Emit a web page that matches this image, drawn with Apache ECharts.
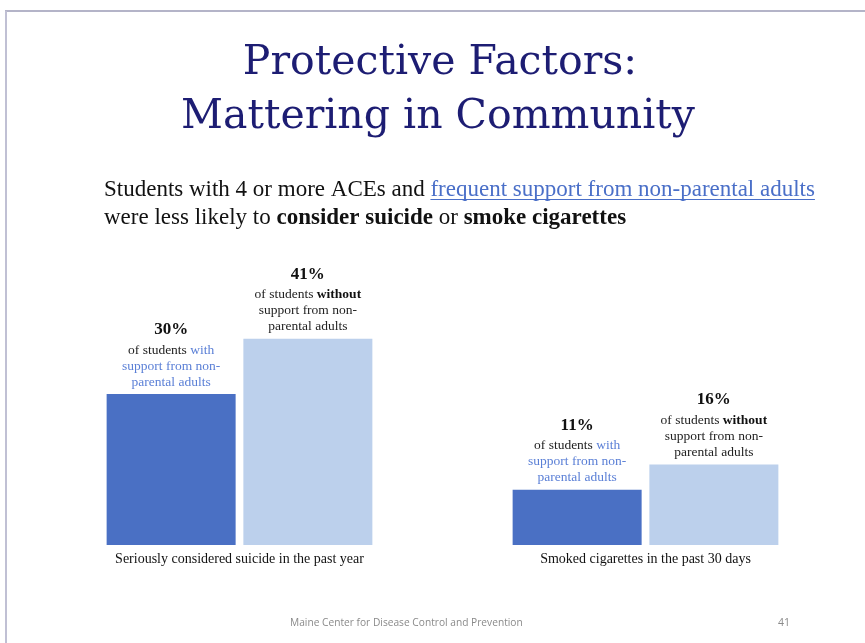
<!DOCTYPE html>
<html>
<head>
<meta charset="utf-8">
<script src="https://cdn.jsdelivr.net/npm/echarts@6/dist/echarts.min.js"></script>
<style>
html,body{margin:0;padding:0;background:#fff;}
#chart{width:865px;height:643px;}
</style>
</head>
<body>
<div id="chart"></div>
<script>
const titleLines = ['Protective Factors:', 'Mattering in Community'];
const categories = ['Seriously considered suicide in the past year', 'Smoked cigarettes in the past 30 days'];
const withSupport = [30, 11];
const withoutSupport = [41, 16];
const footerText = 'Maine Center for Disease Control and Prevention';
const pageNumber = '41';

const chart = echarts.init(document.getElementById('chart'), null, {renderer: 'canvas'});

const serif = '"Liberation Serif", "Times New Roman", serif';
const subFont = 23;
const subX = 104;
const sub1a = 'Students with 4 or more ACEs and ';
const sub1b = 'frequent support from non-parental adults';
const cv = document.createElement('canvas').getContext('2d');
cv.font = subFont + 'px ' + serif;
const wA = cv.measureText(sub1a).width;
const wB = cv.measureText(sub1b).width;

const lf = 13.5;
const labelRichBase = {
  pct: {fontFamily: serif, fontWeight: 'bold', fontSize: 17, color: '#111', lineHeight: 25},
  t: {fontFamily: serif, fontSize: lf, color: '#222', lineHeight: 16},
  b: {fontFamily: serif, fontSize: lf, color: '#111', fontWeight: 'bold', lineHeight: 16},
  w: {fontFamily: serif, fontSize: lf, color: '#5a7fd6', lineHeight: 16}
};

chart.setOption({
  backgroundColor: '#ffffff',
  animation: false,
  grid: {left: 36.5, right: 16.5, top: 293.5, bottom: 98},
  xAxis: {
    type: 'category',
    data: categories,
    axisLine: {show: false},
    axisTick: {show: false},
    axisLabel: {fontFamily: serif, fontSize: 14, color: '#111', margin: 7}
  },
  yAxis: {
    type: 'value', min: 0, max: 50,
    show: false
  },
  series: [
    {
      type: 'bar', name: 'with support', data: withSupport,
      barWidth: 129, barGap: '6%',
      itemStyle: {color: '#4a70c4'},
      label: {
        show: true, position: 'top', distance: 4, align: 'center',
        formatter: p => '{pct|' + p.value + '%}\n{t|of students }{w|with}\n{w|support from non-}\n{w|parental adults}',
        rich: labelRichBase
      }
    },
    {
      type: 'bar', name: 'without support', data: withoutSupport,
      barWidth: 129, barGap: '6%',
      itemStyle: {color: '#bcd0ec'},
      label: {
        show: true, position: 'top', distance: 4, align: 'center',
        formatter: p => '{pct|' + p.value + '%}\n{t|of students }{b|without}\n{t|support from non-}\n{t|parental adults}',
        rich: labelRichBase
      }
    }
  ],
  graphic: [
    {type: 'line', shape: {x1: 5, y1: 11, x2: 865, y2: 11}, style: {stroke: '#b4b4c8', lineWidth: 2}},
    {type: 'line', shape: {x1: 6, y1: 11, x2: 6, y2: 643}, style: {stroke: '#c0c0d4', lineWidth: 2}},
    {type: 'text', x: 440, y: 63, style: {text: titleLines[0], font: '41px "DejaVu Serif", serif', fill: '#1d1d73', textAlign: 'center', textVerticalAlign: 'middle'}},
    {type: 'text', x: 438, y: 117, style: {text: titleLines[1], font: '41px "DejaVu Serif", serif', fill: '#1d1d73', textAlign: 'center', textVerticalAlign: 'middle'}},
    {type: 'text', x: subX, y: 190, style: {
      text: '{n|' + sub1a + '}{l|' + sub1b + '}',
      textVerticalAlign: 'middle',
      rich: {
        n: {fontFamily: serif, fontSize: subFont, fill: '#111'},
        l: {fontFamily: serif, fontSize: subFont, fill: '#4a6fc8'}
      }
    }},
    {type: 'line', shape: {x1: subX + wA, y1: 199.5, x2: subX + wA + wB, y2: 199.5}, style: {stroke: '#4a6fc8', lineWidth: 1}},
    {type: 'text', x: subX, y: 218, style: {
      text: '{n|were less likely to }{b|consider suicide}{n| or }{b|smoke cigarettes}',
      textVerticalAlign: 'middle',
      rich: {
        n: {fontFamily: serif, fontSize: subFont, fill: '#111'},
        b: {fontFamily: serif, fontSize: subFont, fill: '#111', fontWeight: 'bold'}
      }
    }},
    {type: 'text', x: 290, y: 623, style: {text: footerText, font: '10.2px "Open Sans", sans-serif', fill: '#8a8a8a', textVerticalAlign: 'middle'}},
    {type: 'text', x: 778, y: 623, style: {text: pageNumber, font: '10.5px "Open Sans", sans-serif', fill: '#8a8a8a', textVerticalAlign: 'middle'}}
  ]
});
</script>
</body>
</html>
